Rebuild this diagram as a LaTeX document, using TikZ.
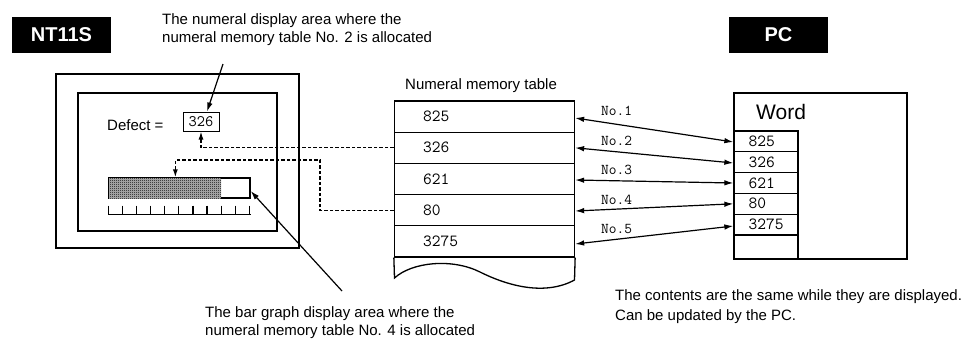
\documentclass[tikz,border=0pt]{standalone}
\usepackage{fontspec}
\setmainfont{Liberation Sans}
\usetikzlibrary{arrows.meta,patterns,calc}
\pgfdeclarepatternformonly{finecheck}{\pgfpointorigin}{\pgfqpoint{2pt}{2pt}}{\pgfqpoint{2pt}{2pt}}{%
  \pgfpathrectangle{\pgfpointorigin}{\pgfqpoint{1pt}{1pt}}%
  \pgfpathrectangle{\pgfqpoint{1pt}{1pt}}{\pgfqpoint{1pt}{1pt}}%
  \pgfusepath{fill}}
\begin{document}
\begin{tikzpicture}[x=1pt,y=-1pt,
  txt/.style={font=\fontsize{15}{17.5}\selectfont, inner sep=0, anchor=base west, align=left},
  title/.style={fill=black, text=white, font=\fontsize{20}{24}\selectfont\bfseries,
                minimum width=99pt, minimum height=36pt, inner sep=0},
  frame/.style={draw, line width=1.8pt, inner sep=0},
  cell/.style={draw, line width=1.3pt, inner sep=0, minimum width=180pt, minimum height=31.2pt},
  wcell/.style={draw, line width=1.3pt, inner sep=0, minimum width=64pt, minimum height=20.8pt},
  mono/.style={font=\fontsize{17}{20}\selectfont\ttfamily, inner sep=0, anchor=west},
  nolab/.style={font=\fontsize{15}{18}\selectfont\ttfamily, inner sep=0, anchor=base west},
  dashln/.style={line width=1.3pt, dash pattern=on 3.5pt off 2pt, -{Latex[length=8pt,width=5pt]}},
  lead/.style={line width=1.2pt, -{Latex[length=9pt,width=5.5pt]}},
  dbl/.style={line width=1.2pt, {Latex[length=9pt,width=5.5pt]}-{Latex[length=9pt,width=5.5pt]}}
]
\useasboundingbox (0,0) rectangle (978,338);

% titles
\node[title] (nt) at (61.5,35) {NT11S};
\node[title] (pc) at (778.5,35) {PC};

% top annotation (base anchor = last line)
\node[txt] (t1) at (162,42) {The numeral display area where the\\numeral memory table No. 2 is allocated};

% screen
\node[frame, minimum width=243pt, minimum height=174pt] (scr) at (177.5,161) {};
\node[frame, minimum width=199pt, minimum height=138pt] (disp) at (177.5,162) {};
\node[txt] (def) at (107,130) {Defect =};
\node[draw, line width=1pt, inner sep=0, minimum width=36pt, minimum height=19pt,
      font=\fontsize{16}{19}\selectfont\ttfamily] (dval) at (201,121.5) {326};

% bar graph
\node[draw, line width=1.3pt, inner sep=0, minimum width=141pt, minimum height=20pt] (bar) at (179.5,188) {};
\fill[gray!55] ([shift={(0.7,0.7)}]bar.north west) rectangle ([xshift=113]bar.south west);
\fill[pattern=finecheck] ([shift={(0.7,0.7)}]bar.north west) rectangle ([xshift=113]bar.south west);
\draw[line width=1.3pt] ($(bar.south west)+(0,16)$) -- ($(bar.south east)+(0,16)$);
\foreach \i in {0,...,10}
  \draw[line width=1.2pt] ($(bar.south west)+(\i*14.1,7)$) -- ++(0,9);

% numeral memory table
\node[txt] (tabt) at (405,89) {Numeral memory table};
\node[cell] (r1) at (484.5,116.6) {};
\node[cell] (r2) at (484.5,147.8) {};
\node[cell] (r3) at (484.5,179.0) {};
\node[cell] (r4) at (484.5,210.2) {};
\node[cell] (r5) at (484.5,241.4) {};
\node[mono] (r1t) at ([xshift=29]r1.west) {825};
\node[mono] (r2t) at ([xshift=29]r2.west) {326};
\node[mono] (r3t) at ([xshift=29]r3.west) {621};
\node[mono] (r4t) at ([xshift=29]r4.west) {80};
\node[mono] (r5t) at ([xshift=29]r5.west) {3275};
\draw[line width=1.3pt] (r5.south west) -- (394.5,278)
  .. controls (412,262) and (452,258) .. (480,272)
  .. controls (508,286) and (545,296) .. (574.5,280) -- (r5.south east);

% PC word area
\node[draw, line width=1.6pt, minimum width=173pt, minimum height=166pt, inner sep=0] (word) at (820.5,176) {};
\node[font=\fontsize{21}{24}\selectfont, inner sep=0, anchor=base west] (wordt) at (756,119) {Word};
\node[wcell] (w1) at (766,141.4) {};
\node[wcell] (w2) at (766,162.2) {};
\node[wcell] (w3) at (766,183.0) {};
\node[wcell] (w4) at (766,203.8) {};
\node[wcell] (w5) at (766,224.6) {};
\node[wcell, minimum height=24pt] (w6) at (766,247) {};
\node[mono] (w1t) at ([xshift=15]w1.west) {825};
\node[mono] (w2t) at ([xshift=15]w2.west) {326};
\node[mono] (w3t) at ([xshift=15]w3.west) {621};
\node[mono] (w4t) at ([xshift=15]w4.west) {80};
\node[mono] (w5t) at ([xshift=15]w5.west) {3275};

% double arrows
\draw[dbl] ([yshift=-1.4]r1.east) -- ([yshift=-0.6]w1.west);
\draw[dbl] (r2.east) -- ([yshift=-0.8]w2.west);
\draw[dbl] ([yshift=-1]r3.east) -- (w3.west);
\draw[dbl] ([yshift=-0.8]r4.east) -- (w4.west);
\draw[dbl] ([yshift=-2.6]r5.east) -- ([yshift=-1.4]w5.west);
\node[nolab] (n1) at (601,115) {No.1};
\node[nolab] (n2) at (601,145) {No.2};
\node[nolab] (n3) at (601,174) {No.3};
\node[nolab] (n4) at (601,204) {No.4};
\node[nolab] (n5) at (601,233) {No.5};

% dashed connections
\draw[dashln] (r2.west) -| (dval.south);
\coordinate (bend) at (320,160);
\draw[dashln] (r4.west) -| (bend) -| ([xshift=67]bar.north west);

% leader lines
\coordinate (c1) at (223,64);
\draw[lead] (c1) -- ([xshift=6]dval.north);
\coordinate (c2) at (342,291);
\draw[lead] (c2) -- ([yshift=-3]bar.east);

% bottom annotations (base anchor = last line)
\node[txt] (t2) at (205,335) {The bar graph display area where the\\numeral memory table No. 4 is allocated};
\node[txt, font=\fontsize{15}{20}\selectfont] (t3) at (615,320) {The contents are the same while they are displayed.\\Can be updated by the PC.};
\end{tikzpicture}
\end{document}
